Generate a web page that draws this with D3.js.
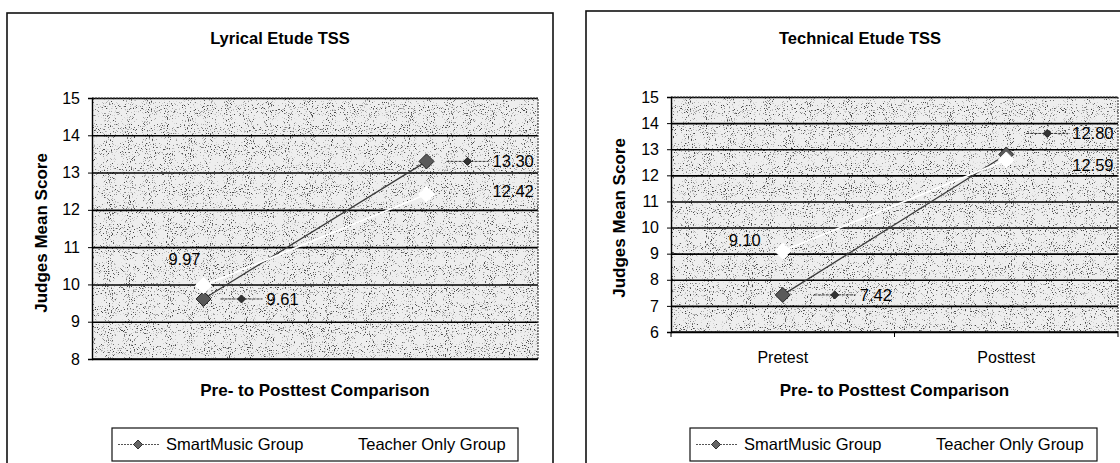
<!DOCTYPE html>
<html>
<head>
<meta charset="utf-8">
<script src="https://cdn.jsdelivr.net/npm/d3@7"></script>
<style>
  body { margin: 0; background: #fff; }
  svg text { font-family: Arial, "Liberation Sans", sans-serif; fill: #000; }
</style>
</head>
<body>
<svg id="chart" width="1120" height="463"></svg>
<script>
// ---- data
const categories = ['Pretest', 'Posttest'];
const seriesNames = ['SmartMusic Group', 'Teacher Only Group'];
const lyricalSmart = [9.61, 13.30];
const lyricalTeacher = [9.97, 12.42];
const technicalSmart = [7.42, 12.80];
const technicalTeacher = [9.10, 12.59];
const lyricalTicks = [8, 9, 10, 11, 12, 13, 14, 15];
const technicalTicks = [6, 7, 8, 9, 10, 11, 12, 13, 14, 15];

// ---- layout for the two panels
const panels = [
  {
    title: 'Lyrical Etude TSS',
    smart: lyricalSmart, teacher: lyricalTeacher, ticks: lyricalTicks,
    box: {x: 7, y: 13, w: 546, h: 470},
    plot: {x: 92, y: 98, w: 446, h: 261},
    showCats: false,
    yTitle: {x: 41, y: 233},
    legend: {x: 112, y: 428, w: 406, h: 33},
    // label offsets from the point: [pre, post]
    smartLab: [{dx: 63, dy: 0}, {dx: 66, dy: 0}],
    teacherLab: [{dx: -3, dy: -26, end: true}, {dx: 66, dy: -3}]
  },
  {
    title: 'Technical Etude TSS',
    smart: technicalSmart, teacher: technicalTeacher, ticks: technicalTicks,
    box: {x: 586, y: 11, w: 548, h: 470},
    plot: {x: 671, y: 97, w: 447, h: 235},
    showCats: true,
    yTitle: {x: 619, y: 218},
    legend: {x: 690, y: 428, w: 407, h: 33},
    smartLab: [{dx: 77, dy: 0}, {dx: 66, dy: -21}],
    teacherLab: [{dx: -22, dy: -11, end: true}, {dx: 66, dy: 5}]
  }
];

const svg = d3.select('#chart');

// speckled, scan-like texture for the plot area
const defs = svg.append('defs');
const f = defs.append('filter').attr('id', 'speckle')
  .attr('x', 0).attr('y', 0).attr('width', '100%').attr('height', '100%');
f.append('feTurbulence').attr('type', 'fractalNoise')
  .attr('baseFrequency', 0.95).attr('numOctaves', 2).attr('seed', 4);
f.append('feColorMatrix').attr('type', 'matrix')
  .attr('values', '0 0 0 0 0  0 0 0 0 0  0 0 0 0 0  -7 0 0 0 2.75');

function diamond(g, x, y, r, fill, stroke) {
  g.append('path')
    .attr('d', `M${x},${y - r}L${x + r},${y}L${x},${y + r}L${x - r},${y}Z`)
    .attr('fill', fill).attr('stroke', stroke).attr('stroke-width', 1);
}

panels.forEach(p => {
  const g = svg.append('g');

  // panel frame (bottom runs off the picture)
  g.append('rect')
    .attr('x', p.box.x).attr('y', p.box.y)
    .attr('width', p.box.w).attr('height', p.box.h)
    .attr('fill', 'none').attr('stroke', '#111').attr('stroke-width', 1.6);

  g.append('text')
    .attr('x', p.box.x + p.box.w / 2).attr('y', 44)
    .attr('text-anchor', 'middle')
    .attr('font-size', 16.5).attr('font-weight', 'bold')
    .text(p.title);

  const x = d3.scaleBand().domain(categories)
    .range([p.plot.x, p.plot.x + p.plot.w]);
  const y = d3.scaleLinear().domain(d3.extent(p.ticks))
    .range([p.plot.y + p.plot.h, p.plot.y]);
  const cx = c => x(c) + x.bandwidth() / 2;

  // plot background
  g.append('rect')
    .attr('x', p.plot.x).attr('y', p.plot.y)
    .attr('width', p.plot.w).attr('height', p.plot.h)
    .attr('fill', '#eeeeee');
  g.append('rect')
    .attr('x', p.plot.x).attr('y', p.plot.y)
    .attr('width', p.plot.w).attr('height', p.plot.h)
    .attr('filter', 'url(#speckle)').attr('opacity', 0.7);

  // gridlines
  g.append('g')
    .attr('transform', `translate(${p.plot.x},0)`)
    .call(d3.axisLeft(y).tickValues(p.ticks).tickSize(-p.plot.w).tickFormat(''))
    .call(a => a.select('.domain').remove())
    .call(a => a.selectAll('line').attr('stroke', '#000').attr('stroke-width', 1.6));

  // plot border top / right (dotted, as scanned)
  g.append('path')
    .attr('d', `M${p.plot.x},${p.plot.y}H${p.plot.x + p.plot.w}V${p.plot.y + p.plot.h}`)
    .attr('fill', 'none').attr('stroke', '#444').attr('stroke-width', 1.2)
    .attr('stroke-dasharray', '2,1');

  // y axis
  g.append('g')
    .attr('transform', `translate(${p.plot.x},0)`)
    .call(d3.axisLeft(y).tickValues(p.ticks).tickFormat(d3.format('d'))
      .tickSize(4).tickPadding(8))
    .call(a => a.select('.domain').attr('stroke', '#000').attr('stroke-width', 1.4))
    .call(a => a.selectAll('line').attr('stroke', '#000'))
    .call(a => a.selectAll('text').attr('font-size', 16)
      .attr('font-family', 'Arial, "Liberation Sans", sans-serif'));

  // x axis
  g.append('line')
    .attr('x1', p.plot.x).attr('x2', p.plot.x + p.plot.w)
    .attr('y1', y.range()[0]).attr('y2', y.range()[0])
    .attr('stroke', '#000').attr('stroke-width', 1.6);
  if (p.showCats) {
    const edges = categories.map(c => x(c)).concat([x.range()[1]]);
    g.selectAll('.xtick').data(edges).enter().append('line')
      .attr('x1', d => d).attr('x2', d => d)
      .attr('y1', y.range()[0]).attr('y2', y.range()[0] + 5)
      .attr('stroke', '#000');
    g.selectAll('.xlab').data(categories).enter().append('text')
      .attr('x', d => cx(d)).attr('y', y.range()[0] + 31)
      .attr('text-anchor', 'middle').attr('font-size', 16)
      .text(d => d);
  }

  g.append('text')
    .attr('x', p.plot.x + p.plot.w / 2).attr('y', 396)
    .attr('text-anchor', 'middle')
    .attr('font-size', 17).attr('font-weight', 'bold')
    .text('Pre- to Posttest Comparison');

  g.append('text')
    .attr('transform', `translate(${p.yTitle.x},${p.yTitle.y}) rotate(-90)`)
    .attr('text-anchor', 'middle').attr('dy', '0.35em')
    .attr('font-size', 17).attr('font-weight', 'bold')
    .text('Judges Mean Score');

  const line = d3.line().x((d, i) => cx(categories[i])).y(d => y(d));

  // SmartMusic series
  g.append('path').datum(p.smart)
    .attr('d', line).attr('fill', 'none')
    .attr('stroke', '#3a3a3a').attr('stroke-width', 1.3);
  p.smart.forEach((v, i) => diamond(g, cx(categories[i]), y(v), 7.5, '#5a5a5a', '#222'));

  // Teacher Only series is white, drawn on top
  g.append('path').datum(p.teacher)
    .attr('d', line).attr('fill', 'none')
    .attr('stroke', '#fff').attr('stroke-width', 1.6);
  p.teacher.forEach((v, i) => diamond(g, cx(categories[i]), y(v), 8, '#fff', '#fff'));

  // data labels (SmartMusic ones carry a legend key)
  p.smart.forEach((v, i) => {
    const o = p.smartLab[i];
    const tx = cx(categories[i]) + o.dx, ty = y(v) + o.dy;
    g.append('line')
      .attr('x1', tx - 46).attr('x2', tx - 4).attr('y1', ty).attr('y2', ty)
      .attr('stroke', '#333').attr('stroke-width', 1).attr('stroke-dasharray', '3,1');
    diamond(g, tx - 25, ty, 4, '#333', '#222');
    g.append('text').attr('x', tx).attr('y', ty).attr('dy', '0.35em')
      .attr('font-size', 16.5).text(v.toFixed(2));
  });
  p.teacher.forEach((v, i) => {
    const o = p.teacherLab[i];
    g.append('text')
      .attr('x', cx(categories[i]) + o.dx).attr('y', y(v) + o.dy).attr('dy', '0.35em')
      .attr('text-anchor', o.end ? 'end' : 'start')
      .attr('font-size', 16.5).text(v.toFixed(2));
  });

  // legend
  const L = p.legend;
  const lg = g.append('g');
  lg.append('rect').attr('x', L.x).attr('y', L.y).attr('width', L.w).attr('height', L.h)
    .attr('fill', '#fff').attr('stroke', '#111').attr('stroke-width', 1.2);
  const ly = L.y + L.h / 2;
  lg.append('line').attr('x1', L.x + 6).attr('x2', L.x + 48).attr('y1', ly).attr('y2', ly)
    .attr('stroke', '#555').attr('stroke-width', 1).attr('stroke-dasharray', '2,1');
  diamond(lg, L.x + 26, ly, 4.5, '#666', '#333');
  lg.append('text').attr('x', L.x + 54).attr('y', ly).attr('dy', '0.35em')
    .attr('font-size', 16.5).text(seriesNames[0]);
  lg.append('line').attr('x1', L.x + 198).attr('x2', L.x + 240).attr('y1', ly).attr('y2', ly)
    .attr('stroke', '#fff').attr('stroke-width', 1.5);
  lg.append('text').attr('x', L.x + 246).attr('y', ly).attr('dy', '0.35em')
    .attr('font-size', 16.5).text(seriesNames[1]);
});
</script>
</body>
</html>
